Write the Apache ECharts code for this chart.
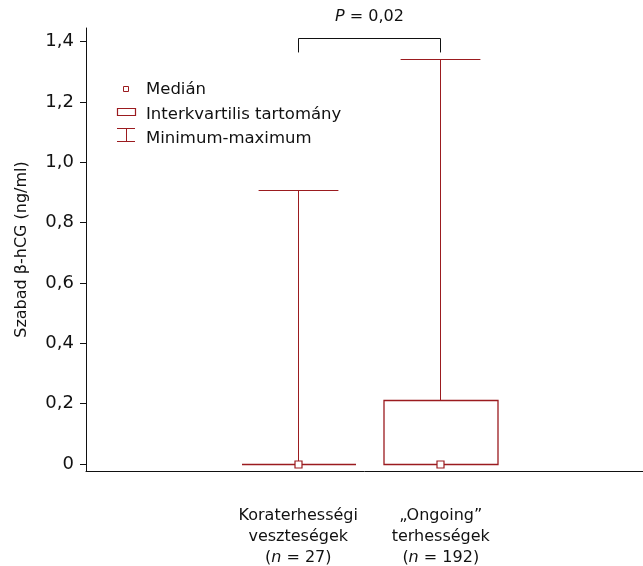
<!DOCTYPE html>
<html><head><meta charset="utf-8">
<script src="https://cdn.jsdelivr.net/npm/echarts@6/dist/echarts.min.js"></script>
<style>html,body{margin:0;padding:0;background:#fff}#c{width:643px;height:566px}</style>
</head><body><div id="c"></div>
<script>
// ---- data ----
const categories = ['Koraterhességi\nveszteségek', '„Ongoing”\nterhességek'];
const groupN = [27, 192];
const minVals = [0, 0];
const q1Vals = [0, 0];
const medianVals = [0, 0];
const q3Vals = [0, 0.21];
const maxVals = [0.907, 1.34];
const yTickValues = [0, 0.2, 0.4, 0.6, 0.8, 1.0, 1.2, 1.4];
const pValueText = '0,02';
const bracketLevels = [1.411, 1.364];
const legendLabels = ['Medián', 'Interkvartilis tartomány', 'Minimum-maximum'];
const yAxisTitle = 'Szabad β-hCG (ng/ml)';

// ---- styles ----
const RED = '#9b1b1f';
const FONT = 'DejaVu Sans';
const Y_MIN = -0.023, Y_MAX = 1.445;

const boxData = categories.map((c, i) => [i, minVals[i], q1Vals[i], medianVals[i], q3Vals[i], maxVals[i]]);

function catLabel(value, idx) {
  const lines = value.split('\n').map(l => '{a|' + l + '}');
  lines.push('{a|(}{i|n}{a| = ' + groupN[idx] + ')}');
  return lines.join('\n');
}

function crisp(v) { return Math.round(v - 0.5) + 0.5; }

function renderBox(params, api) {
  const x = api.value(0);
  const pMin = api.coord([x, api.value(1)]);
  const pQ1 = api.coord([x, api.value(2)]);
  const pMed = api.coord([x, api.value(3)]);
  const pQ3 = api.coord([x, api.value(4)]);
  const pMax = api.coord([x, api.value(5)]);
  const band = api.size([1, 0])[0];
  const cx = crisp(pMed[0]);
  const hb = band * 0.4;
  const hc = band * 0.28;
  const yMax = crisp(pMax[1]), yMin = crisp(pMin[1]), yQ1 = crisp(pQ1[1]), yQ3 = crisp(pQ3[1]);
  const ln = (x1, y1, x2, y2, w) => ({
    type: 'line', shape: { x1, y1, x2, y2 },
    style: { stroke: RED, lineWidth: w, fill: null }
  });
  return {
    type: 'group',
    children: [
      ln(cx, yQ3, cx, yMax, 1),
      ln(cx, yQ1, cx, yMin, 1),
      ln(cx - hc, yMax, cx + hc, yMax, 1.2),
      ln(cx - hc, yMin, cx + hc, yMin, 1.2),
      {
        type: 'rect',
        shape: { x: Math.round(cx - hb), y: yQ3, width: Math.round(2 * hb), height: yQ1 - yQ3 },
        style: { fill: '#fff', stroke: RED, lineWidth: 1.3 }
      },
      {
        type: 'rect',
        shape: { x: cx - 3.5, y: crisp(pMed[1]) - 3.5, width: 7, height: 7 },
        style: { fill: '#fff', stroke: RED, lineWidth: 1.2 }
      }
    ]
  };
}

function renderBracket(params, api) {
  const a = api.coord([api.value(0), api.value(2)]);
  const b = api.coord([api.value(1), api.value(2)]);
  const bl = api.coord([api.value(0), api.value(3)]);
  const xa = crisp(a[0]), xb = crisp(b[0]), yt = crisp(a[1]), yb = bl[1];
  return {
    type: 'group',
    children: [
      { type: 'polyline', shape: { points: [[xa, yb], [xa, yt], [xb, yt], [xb, yb]] },
        style: { stroke: '#111', lineWidth: 1, fill: null } },
      { type: 'text', x: (xa + xb) / 2, y: yt - 22,
        style: {
          text: '{i|P}{a| = ' + pValueText + '}',
          align: 'center', verticalAlign: 'middle',
          rich: {
            i: { fontFamily: FONT, fontSize: 16, fontStyle: 'italic', fill: '#111' },
            a: { fontFamily: FONT, fontSize: 16, fill: '#111' }
          }
        } }
    ]
  };
}

const legendTextStyle = { fontFamily: FONT, fontSize: 16.5, fill: '#111', verticalAlign: 'middle' };

const chart = echarts.init(document.getElementById('c'), null, { renderer: 'canvas' });
chart.setOption({
  animation: false,
  backgroundColor: '#fff',
  grid: [
    { left: 86, right: 0, top: 28, bottom: 95 },
    { left: 227, right: 131, top: 28, bottom: 95 }
  ],
  xAxis: [
    { type: 'value', gridIndex: 0, min: 0, max: 1,
      axisLine: { show: true, onZero: false, lineStyle: { color: '#111', width: 1 } },
      axisTick: { show: false }, axisLabel: { show: false }, splitLine: { show: false } },
    { type: 'category', gridIndex: 1, data: categories, boundaryGap: true,
      axisLine: { show: false }, axisTick: { show: false }, splitLine: { show: false },
      axisLabel: {
        interval: 0, margin: 34, formatter: catLabel,
        rich: {
          a: { fontFamily: FONT, fontSize: 16, color: '#111', lineHeight: 21 },
          i: { fontFamily: FONT, fontSize: 16, color: '#111', lineHeight: 21, fontStyle: 'italic' }
        }
      } }
  ],
  yAxis: [
    { type: 'value', gridIndex: 0, min: Y_MIN, max: Y_MAX,
      name: yAxisTitle, nameLocation: 'middle', nameGap: 56,
      nameTextStyle: { fontFamily: FONT, fontSize: 16, color: '#111' },
      axisLine: { show: true, onZero: false, lineStyle: { color: '#111', width: 1 } },
      axisTick: { show: true, length: 6, customValues: yTickValues, lineStyle: { color: '#111' } },
      axisLabel: { customValues: yTickValues, margin: 12, fontFamily: FONT, fontSize: 18, color: '#111',
        formatter: v => (Math.abs(v) < 1e-9 ? '0' : v.toFixed(1).replace('.', ',')) },
      splitLine: { show: false } },
    { type: 'value', gridIndex: 1, min: Y_MIN, max: Y_MAX, show: false, splitLine: { show: false } }
  ],
  series: [
    { type: 'custom', name: 'box', xAxisIndex: 1, yAxisIndex: 1, renderItem: renderBox,
      encode: { x: 0, y: [1, 2, 3, 4, 5] }, data: boxData, clip: false },
    { type: 'custom', name: 'bracket', xAxisIndex: 1, yAxisIndex: 1, renderItem: renderBracket,
      encode: { x: [0, 1], y: [2, 3] }, data: [[0, 1, bracketLevels[0], bracketLevels[1]]], clip: false }
  ],
  graphic: [
    { type: 'rect', shape: { x: 123.5, y: 86.5, width: 5, height: 5 },
      style: { fill: '#fff', stroke: RED, lineWidth: 1 } },
    { type: 'rect', shape: { x: 117.5, y: 108.5, width: 18, height: 7 },
      style: { fill: '#fff', stroke: RED, lineWidth: 1.2 } },
    { type: 'polyline', shape: { points: [[117, 128.5], [135, 128.5]] }, style: { stroke: RED, lineWidth: 1 } },
    { type: 'polyline', shape: { points: [[117, 141.5], [135, 141.5]] }, style: { stroke: RED, lineWidth: 1 } },
    { type: 'polyline', shape: { points: [[126.5, 128.5], [126.5, 141.5]] }, style: { stroke: RED, lineWidth: 1 } },
    { type: 'text', x: 146, y: 90, style: Object.assign({ text: legendLabels[0] }, legendTextStyle) },
    { type: 'text', x: 146, y: 115, style: Object.assign({ text: legendLabels[1] }, legendTextStyle) },
    { type: 'text', x: 146, y: 139, style: Object.assign({ text: legendLabels[2] }, legendTextStyle) }
  ]
});
</script>
</body></html>
